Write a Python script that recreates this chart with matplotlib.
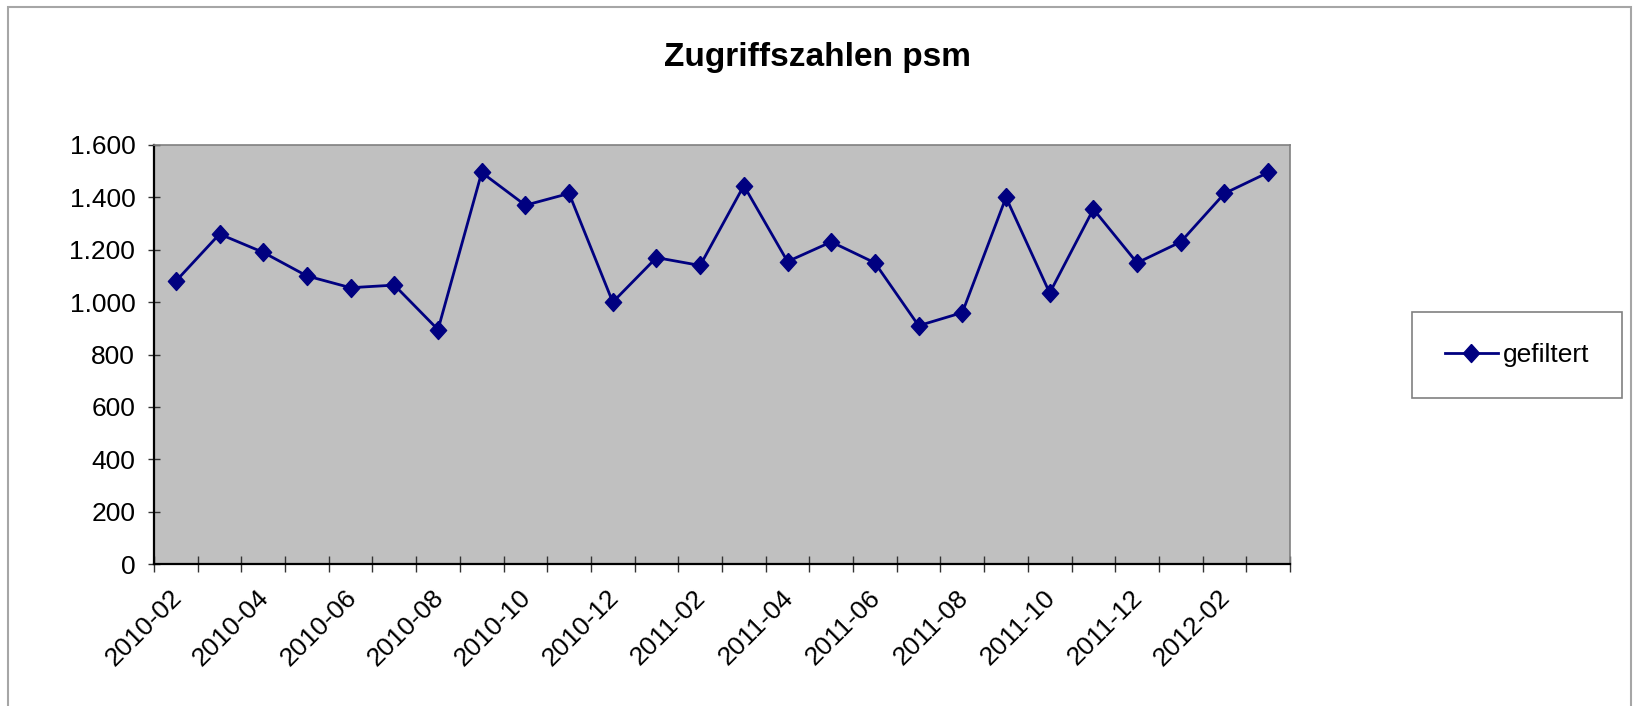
import matplotlib
matplotlib.use("Agg")
import matplotlib.pyplot as plt
from matplotlib.patches import Rectangle
from matplotlib.lines import Line2D
import matplotlib.transforms as mtransforms

plt.rcParams['font.family'] = ['Liberation Sans', 'DejaVu Sans']

title = "Zugriffszahlen psm"
series_name = "gefiltert"
months = ["2010-02", "2010-03", "2010-04", "2010-05", "2010-06", "2010-07", "2010-08",
          "2010-09", "2010-10", "2010-11", "2010-12", "2011-01", "2011-02", "2011-03",
          "2011-04", "2011-05", "2011-06", "2011-07", "2011-08", "2011-09", "2011-10",
          "2011-11", "2011-12", "2012-01", "2012-02", "2012-03"]
values = [1080, 1260, 1190, 1100, 1055, 1065, 895, 1495, 1370, 1415, 1000, 1170, 1140,
          1445, 1155, 1230, 1150, 910, 960, 1400, 1035, 1355, 1150, 1230, 1415, 1495]
y_ticks = [0, 200, 400, 600, 800, 1000, 1200, 1400, 1600]
y_labels = ["0", "200", "400", "600", "800", "1.000", "1.200", "1.400", "1.600"]

W, H = 1639, 706
fig = plt.figure(figsize=(W / 100, H / 100), dpi=100)
fig.patch.set_facecolor('white')

# outer chart border
fig.patches.append(Rectangle((8 / W, -0.05), (1631 - 8) / W, 1.05 - 7 / H,
                             transform=fig.transFigure, fill=False,
                             edgecolor='#a6a6a6', linewidth=1.5))

L, R, T, B = 154, 1290, 145, 564
ax = fig.add_axes([L / W, (H - B) / H, (R - L) / W, (B - T) / H])
ax.set_facecolor('#c0c0c0')

diamond = [(0, 1), (0.9, 0), (0, -1), (-0.9, 0), (0, 1)]
x = list(range(len(months)))
ax.plot(x, values, color='#000080', linewidth=2.0, marker=diamond,
        markersize=13, markerfacecolor='#000080', markeredgecolor='#000080')

ax.set_xlim(-0.5, len(months) - 0.5)
ax.set_ylim(0, 1600)
ax.set_yticks(y_ticks)
ax.set_yticklabels(y_labels, fontsize=19)

# category boundary ticks
ax.set_xticks([i - 0.5 for i in range(len(months) + 1)])
ax.set_xticklabels([])
ax.tick_params(axis='x', direction='inout', length=11, width=1, color='#333333')
ax.tick_params(axis='y', direction='inout', length=9, width=1, color='#333333', pad=9)

for s in ['left', 'bottom']:
    ax.spines[s].set_color('black')
    ax.spines[s].set_linewidth(1.6)
for s in ['top', 'right']:
    ax.spines[s].set_color('#808080')
    ax.spines[s].set_linewidth(1.2)

# rotated category labels for every other month
offset = mtransforms.ScaledTranslation(2 / 100, -30 / 100, fig.dpi_scale_trans)
for i in range(0, len(months), 2):
    ax.text(i, 0, months[i], rotation=45, rotation_mode='anchor',
            ha='right', va='center', fontsize=19,
            transform=ax.transData + offset, clip_on=False)

fig.text(817 / W, 1 - 66 / H, title, ha='center', va='baseline',
         fontsize=24, fontweight='bold')

# legend
lx0, lx1, ly0, ly1 = 1412, 1622, 312, 398
fig.patches.append(Rectangle((lx0 / W, (H - ly1) / H), (lx1 - lx0) / W, (ly1 - ly0) / H,
                             transform=fig.transFigure, fill=False,
                             edgecolor='#808080', linewidth=1.2))
handle = Line2D([], [], color='#000080', linewidth=2.0, marker=diamond, markersize=13)
fig.legend([handle], [series_name], loc='center',
           bbox_to_anchor=((lx0 + lx1) / 2 / W, 1 - (ly0 + ly1) / 2 / H),
           frameon=False, fontsize=19, handlelength=2.0, handletextpad=0.2)

fig.savefig("out.png", dpi=100)
